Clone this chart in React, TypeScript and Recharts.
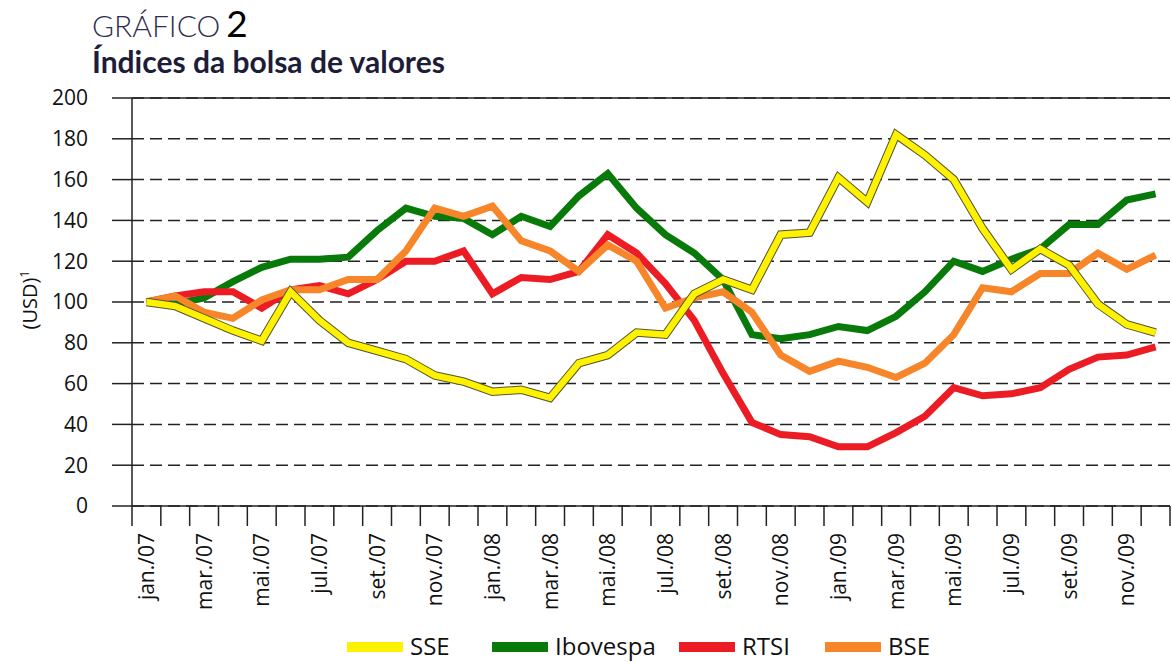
import { CartesianGrid, Line, LineChart, ReferenceLine, XAxis, YAxis } from "recharts";

const months = [
  "jan./07", "fev./07", "mar./07", "abr./07", "mai./07", "jun./07",
  "jul./07", "ago./07", "set./07", "out./07", "nov./07", "dez./07",
  "jan./08", "fev./08", "mar./08", "abr./08", "mai./08", "jun./08",
  "jul./08", "ago./08", "set./08", "out./08", "nov./08", "dez./08",
  "jan./09", "fev./09", "mar./09", "abr./09", "mai./09", "jun./09",
  "jul./09", "ago./09", "set./09", "out./09", "nov./09", "dez./09",
];

const sse = [
  100, 98, 92, 86, 81, 105, 91, 80, 76, 72, 64, 61,
  56, 57, 53, 70, 74, 85, 84, 104, 111, 106, 133, 134,
  161, 149, 182, 172, 160, 136, 116, 126, 118, 99, 89, 85,
];
const ibovespa = [
  100, 99, 102, 110, 117, 121, 121, 122, 135, 146, 142, 141,
  133, 142, 137, 152, 163, 146, 133, 124, 111, 84, 82, 84,
  88, 86, 93, 105, 120, 115, 121, 126, 138, 138, 150, 153,
];
const rtsi = [
  100, 103, 105, 105, 97, 106, 108, 104, 111, 120, 120, 125,
  104, 112, 111, 115, 133, 124, 109, 91, 65, 41, 35, 34,
  29, 29, 36, 44, 58, 54, 55, 58, 67, 73, 74, 78,
];
const bse = [
  100, 103, 95, 92, 101, 106, 106, 111, 111, 125, 146, 142,
  147, 130, 125, 115, 128, 120, 97, 102, 105, 95, 74, 66,
  71, 68, 63, 70, 84, 107, 105, 114, 114, 124, 116, 123,
];

const yTicks = [0, 20, 40, 60, 80, 100, 120, 140, 160, 180, 200];

const legendItems = [
  { name: "SSE", color: "#fff200", x: 347 },
  { name: "Ibovespa", color: "#087a0a", x: 492 },
  { name: "RTSI", color: "#ec1c24", x: 679 },
  { name: "BSE", color: "#f7862a", x: 825 },
];

const data = months.map((m, i) => ({
  m,
  x: i + 0.5,
  sse: sse[i],
  ibovespa: ibovespa[i],
  rtsi: rtsi[i],
  bse: bse[i],
}));

// ticks at month boundaries (integers) and month centres (halves) for labels
const xTicks: number[] = [];
for (let i = 0; i <= months.length; i++) {
  xTicks.push(i);
  if (i < months.length) xTicks.push(i + 0.5);
}

const FONT = "'Open Sans', 'Noto Sans', sans-serif";

function MonthTick(props: any) {
  const { x, y, payload } = props;
  const v = payload.value as number;
  if (Number.isInteger(v)) {
    return <line x1={x} y1={y} x2={x} y2={y + 20} stroke="#222" strokeWidth={1.5} />;
  }
  const i = Math.floor(v);
  if (i % 2 !== 0) return <g />;
  const ty = y + 27;
  return (
    <text
      x={x}
      y={ty}
      dy="0.36em"
      textAnchor="end"
      transform={`rotate(-90 ${x} ${ty})`}
      fontSize={21}
      fontFamily={FONT}
      fill="#111"
    >
      {months[i]}
    </text>
  );
}

export default function App() {
  return (
    <div style={{ position: "absolute", left: 0, top: 0, width: 1172, height: 662, background: "#fff" }}>
      <LineChart width={1172} height={662} data={data} margin={{ top: 98, right: 2, left: 0, bottom: 46 }}>
        <CartesianGrid vertical={false} stroke="#222" strokeDasharray="12 6" strokeWidth={1.5} />
        <ReferenceLine y={200} stroke="#222" strokeWidth={1.5} />
        <XAxis
          dataKey="x"
          type="number"
          domain={[0, months.length]}
          ticks={xTicks}
          interval={0}
          tickSize={0}
          tickMargin={0}
          tick={<MonthTick />}
          axisLine={{ stroke: "#222", strokeWidth: 1.5 }}
          height={110}
        />
        <YAxis
          domain={[0, 200]}
          ticks={yTicks}
          interval={0}
          width={132}
          tickSize={20}
          tickMargin={24}
          tickLine={{ stroke: "#222", strokeWidth: 1.5 }}
          axisLine={{ stroke: "#222", strokeWidth: 1.5 }}
          tick={{ fontSize: 21, fill: "#111", fontFamily: FONT }}
        />
        <Line dataKey="ibovespa" stroke="#087a0a" strokeWidth={7} dot={false} isAnimationActive={false} />
        <Line dataKey="rtsi" stroke="#ec1c24" strokeWidth={7} dot={false} isAnimationActive={false} />
        <Line dataKey="bse" stroke="#f7862a" strokeWidth={7} dot={false} isAnimationActive={false} />
        <Line dataKey="sse" stroke="#55552e" strokeWidth={8.5} dot={false} isAnimationActive={false} legendType="none" />
        <Line dataKey="sse" stroke="#fff200" strokeWidth={6.5} dot={false} isAnimationActive={false} />
      </LineChart>
      <svg
        width={1172}
        height={662}
        style={{ position: "absolute", left: 0, top: 0, pointerEvents: "none" }}
      >
        <text x={92} y={37} fontFamily="Lato, 'Open Sans', sans-serif" fontWeight={300} fontSize={30} fill="#2e2e4e">
          GRÁFICO
          <tspan dx={6} fontSize={37} fill="#000" fontWeight={400}>2</tspan>
        </text>
        <text x={92} y={73} fontFamily="Lato, 'Open Sans', sans-serif" fontWeight={700} fontSize={30} fill="#1d1d3a">
          Índices da bolsa de valores
        </text>
        <text
          x={37}
          y={300}
          textAnchor="middle"
          transform="rotate(-90 37 300)"
          fontFamily={FONT}
          fontSize={20}
          fill="#111"
        >
          (USD)<tspan fontSize={12} dy={-8}>1</tspan>
        </text>
        {legendItems.map((it) => (
          <g key={it.name}>
            <rect x={it.x} y={642} width={56} height={10} fill={it.color} />
            <text x={it.x + 63} y={655} fontFamily={FONT} fontSize={24} fill="#111">
              {it.name}
            </text>
          </g>
        ))}
      </svg>
    </div>
  );
}
